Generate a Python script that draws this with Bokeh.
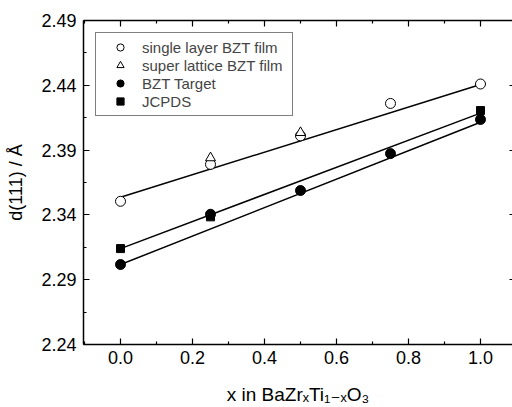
from bokeh.plotting import figure
from bokeh.models import (Range1d, LinearAxis, FixedTicker, PrintfTickFormatter,
                          Legend, LegendItem)
from bokeh.embed import file_html
from bokeh.resources import INLINE

# ---- data ----
x_single = [0.0, 0.25, 0.5, 0.75, 1.0]
y_single = [2.3505, 2.379, 2.401, 2.426, 2.441]
x_super = [0.25, 0.5]
y_super = [2.384, 2.4035]
x_target = [0.0, 0.25, 0.5, 0.75, 1.0]
y_target = [2.3017, 2.3405, 2.3588, 2.3873, 2.4136]
x_jcpds = [0.0, 0.25, 1.0]
y_jcpds = [2.314, 2.3385, 2.4205]
fit_x = [0.0, 1.0]
fit_single = [2.3536, 2.4406]
fit_jcpds = [2.314, 2.4185]
fit_target = [2.3017, 2.4115]
x_ticks = [0.0, 0.2, 0.4, 0.6, 0.8, 1.0]
x_minor = [-0.1, 0.1, 0.3, 0.5, 0.7, 0.9, 1.1]
y_ticks = [2.24, 2.29, 2.34, 2.39, 2.44, 2.49]
y_minor = [2.265, 2.315, 2.365, 2.415, 2.465]
x_title = "x in BaZr\u2093Ti\u2081\u208b\u2093O\u2083"
y_title = "d(111) / \u00c5"

FONT = "Liberation Sans, DejaVu Sans"

p = figure(width=512, height=407, output_backend="svg", toolbar_location=None,
           x_range=Range1d(-0.1028, 1.0889), y_range=Range1d(2.24, 2.49),
           min_border_left=83, min_border_right=0, min_border_top=20,
           min_border_bottom=63)
p.grid.visible = False
p.outline_line_color = None
p.background_fill_color = "white"
p.border_fill_color = "white"

def style_axis(ax, labels=True):
    ax.axis_line_width = 1.5
    ax.axis_line_color = "black"
    ax.major_tick_in = 6
    ax.major_tick_out = 0
    ax.minor_tick_in = 3
    ax.minor_tick_out = 0
    ax.major_tick_line_width = 1.2
    ax.minor_tick_line_width = 1.2
    ax.major_tick_line_color = "black"
    ax.minor_tick_line_color = "black"
    ax.major_label_text_font = FONT
    ax.major_label_text_font_size = "18px"
    ax.major_label_text_color = "black"
    ax.axis_label_text_font = FONT
    ax.axis_label_text_font_style = "normal"
    ax.axis_label_text_color = "black"
    if not labels:
        ax.major_label_text_font_size = "0px"
        ax.major_label_standoff = 0

p.xaxis.ticker = FixedTicker(ticks=x_ticks, minor_ticks=x_minor)
p.xaxis.formatter = PrintfTickFormatter(format="%.1f")
p.yaxis.ticker = FixedTicker(ticks=y_ticks, minor_ticks=y_minor)
p.yaxis.formatter = PrintfTickFormatter(format="%.2f")
style_axis(p.xaxis[0])
style_axis(p.yaxis[0])
p.xaxis.major_label_standoff = 6
p.yaxis.major_label_standoff = 7
p.yaxis.axis_label = y_title
p.yaxis.axis_label_text_font_size = "18px"
p.yaxis.axis_label_standoff = 12
p.xaxis.axis_label = x_title
p.xaxis.axis_label_text_font_size = "19px"
p.xaxis.axis_label_standoff = 17

top = LinearAxis(ticker=FixedTicker(ticks=x_ticks, minor_ticks=x_minor))
style_axis(top, labels=False)
p.add_layout(top, "above")
right = LinearAxis(ticker=FixedTicker(ticks=y_ticks, minor_ticks=[]))
style_axis(right, labels=False)
right.axis_line_color = None
right.major_tick_in = 3
p.add_layout(right, "right")

# fit lines
for fy in (fit_single, fit_jcpds, fit_target):
    p.line(fit_x, fy, line_color="black", line_width=1.5)

r_single = p.scatter(x_single, y_single, marker="circle", size=10,
                     fill_color="white", line_color="black", line_width=1)
r_super = p.scatter(x_super, y_super, marker="triangle", size=10,
                    fill_color="white", line_color="black", line_width=1)
r_jcpds = p.scatter(x_jcpds, y_jcpds, marker="square", size=8,
                    fill_color="black", line_color="black")
r_target = p.scatter(x_target, y_target, marker="circle", size=10,
                     fill_color="black", line_color="black")

legend = Legend(items=[
    LegendItem(label="single layer BZT film", renderers=[r_single]),
    LegendItem(label="super lattice BZT film", renderers=[r_super]),
    LegendItem(label="BZT Target", renderers=[r_target]),
    LegendItem(label="JCPDS", renderers=[r_jcpds]),
], location="top_left", margin=12, padding=5, spacing=0,
   glyph_height=18, glyph_width=38, label_standoff=3, label_width=145,
   label_height=18,
   label_text_font=FONT, label_text_font_size="15px",
   border_line_color="black", border_line_width=1,
   background_fill_color="white", background_fill_alpha=1)
p.add_layout(legend, "center")

open("out.html", "w").write(file_html(p, INLINE))
